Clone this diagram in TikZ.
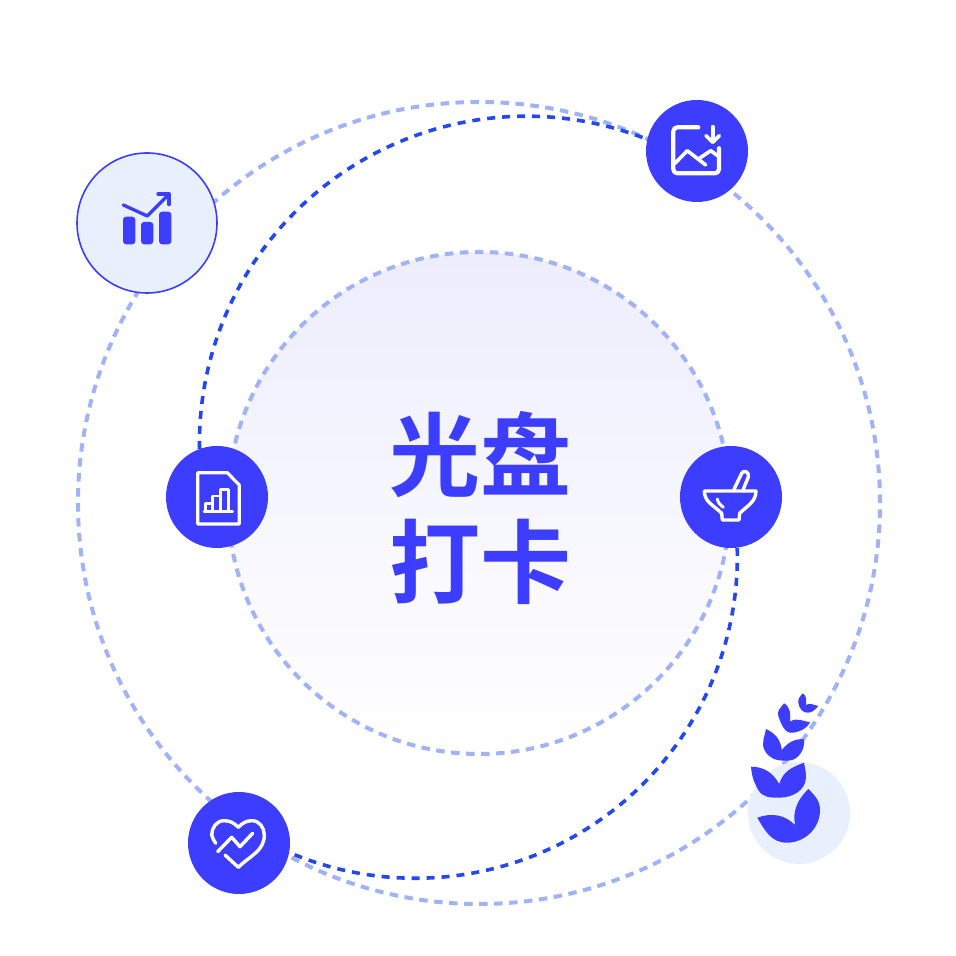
\documentclass[tikz,border=0pt]{standalone}
\usepackage{fontspec}
\newfontfamily\cjk{Noto Sans CJK SC}[BoldFont=* Bold]
\definecolor{iconblue}{HTML}{3D3DFF}
\definecolor{arcblue}{HTML}{2448F0}
\definecolor{ringblue}{HTML}{A0B2F8}
\definecolor{paleblue}{HTML}{E8F0FE}
\definecolor{palelilac}{HTML}{EDEDFD}
\tikzset{
  ringline/.style={draw=ringblue, line width=4pt, dash pattern=on 8.5pt off 6.5pt},
  arcline/.style={draw=arcblue, line width=3.6pt, dash pattern=on 8pt off 7pt},
  badge/.style={circle, fill=iconblue, inner sep=0pt, minimum size=102pt},
  paledisc/.style={circle, fill=paleblue, inner sep=0pt},
  iconline/.style={draw=white, line width=3.6pt, line cap=round, line join=round},
}

\begin{document}
\begin{tikzpicture}[x=1pt,y=1pt]
\useasboundingbox (0,0) rectangle (956,956);
\node[circle, ringline, inner sep=0pt, minimum size=802pt] (outerring) at (479,453) {};
\node[circle, ringline, top color=palelilac, bottom color=white, inner sep=0pt, minimum size=502pt] (innerring) at (479,453) {};
\node[align=center, font=\cjk\bfseries\fontsize{91}{108}\selectfont, text=iconblue] (title) at (480,448) {光盘\\[-1pt]打卡};
\node[paledisc, draw=iconblue, line width=1.6pt, minimum size=140pt] (chart) at (147,733) {};
\node[paledisc, minimum size=102pt] (plant) at (799,143) {};
\node[badge] (picture) at (697,805) {};
\node[badge] (report) at (217,459) {};
\node[badge] (bowl) at (731,459) {};
\node[badge] (heart) at (239,113) {};
% dark arcs
\draw[arcline] (report.110) arc[start angle=181, end angle=68.5, radius=327];
\draw[arcline] (bowl.-83) arc[start angle=1.5, end angle=-113, radius=322];
% chart icon
\begin{scope}[shift={(chart)}]
\fill[iconblue, rounded corners=3pt] (-24,-21.3) rectangle (-11.7,6.3);
\fill[iconblue, rounded corners=3pt] (-6,-21.3) rectangle (6.3,1);
\fill[iconblue, rounded corners=3pt] (12,-21.3) rectangle (24.3,11.3);
\draw[iconblue, line width=3.3pt, line cap=round, line join=round] (-23.7,18) -- (0.3,7) -- (21.3,28);
\draw[iconblue, line width=3.3pt, line cap=round, line join=round] (11,29) -- (22,29) -- (22,18.5);
\end{scope}
% picture icon
\begin{scope}[shift={(picture)}]
\draw[iconline, line width=4.2pt, rounded corners=4pt] (1.3,23.7) -- (-23.7,23.7) -- (-23.7,-22.3) -- (22,-22.3) -- (22,2.7);
\draw[iconline] (-22,-12.3) -- (-9.7,0.3) -- (8.7,-14);
\draw[iconline] (1.3,-8) -- (13.7,0.3) -- (22,-5.7);
\draw[iconline] (15.7,24.3) -- (15.7,9.3);
\draw[iconline] (9,15.3) -- (15.7,8.7) -- (22.3,15.3);
\end{scope}
% report icon
\begin{scope}[shift={(report)}]
\draw[iconline, line width=3.2pt] (-19.3,24.3) -- (10.3,24.3) -- (22.3,12) -- (22.3,-27) -- (-19.3,-27) -- cycle;
\draw[iconline, line width=2.8pt] (-13,-14.7) -- (15.7,-14.7);
\draw[iconline, line width=2.8pt] (-11.3,-14.7) rectangle (-4.7,-6.3);
\draw[iconline, line width=2.8pt] (-4.7,-14.7) rectangle (3.7,1);
\draw[iconline, line width=2.8pt] (3.7,-14.7) rectangle (11.3,7.7);
\end{scope}
% bowl icon
\begin{scope}[shift={(bowl)}]
\draw[iconline, line width=3.4pt] (3,7.7) -- (10.7,23.7) to[out=65,in=70,looseness=1.6] (17.3,20) -- (12.3,7.7);
\draw[iconline, line width=3.4pt] (-26.7,6) -- (25,6) to[out=-90,in=45] (8.7,-16.3) -- (8,-23) -- (-8.7,-23) -- (-9.3,-16.3) to[out=135,in=-90] (-26.7,6);
\draw[iconline, line width=3pt] (-13.7,-2) to[out=-80,in=140] (-7.7,-10.3);
\end{scope}
% heart icon
\begin{scope}[shift={(heart)}]
\draw[iconline, line width=3.4pt] (-23.3,-0.3) to[out=110,in=-90] (-27.3,8) to[out=90,in=180] (-15,22.3) to[out=0,in=135] (-0.7,15.7)
  to[out=45,in=180] (13,22.3) to[out=0,in=90] (25.3,8) to[out=-90,in=45] (-0.7,-24.3) -- (-14,-12);
\draw[iconline, line width=3.4pt] (-21.3,-8.7) -- (-7.3,5.7) -- (1,-3.7) -- (13.7,9.7);
\end{scope}
% plant leaves
\begin{scope}[shift={(plant)}]
\fill[iconblue] (-41.7,-4.7) to[out=20,in=135] (-4,-12) to[out=100,in=225] (9.3,24)
  to[out=-45,in=90] (21,3) to[out=-90,in=0] (-12.3,-29.7) to[out=180,in=-60] cycle;
\fill[iconblue] (-48,46.3) to[out=0,in=120] (-19.7,29) to[out=75,in=200] (5,50.3)
  to[out=-80,in=90] (7,36) to[out=-90,in=0] (-19.7,15.3) to[out=180,in=-60] (-40.7,23) to[out=120,in=-85] cycle;
\fill[iconblue] (-33,84) to[out=-25,in=95] (-17.3,63) to[out=50,in=175] (5,73.7)
  to[out=-85,in=45] (-1,56.5) to[out=225,in=0] (-14,52.3) to[out=180,in=-60] (-34,62) to[out=120,in=-100] cycle;
\fill[iconblue] (-15,109.7) to[out=-30,in=85] (-9,91.3) to[out=35,in=170] (11,90.7)
  to[out=-120,in=10] (-5.7,80.3) to[out=190,in=-70] (-20.7,97) to[out=110,in=-125] cycle;
\fill[iconblue] (3.7,119.7) to[out=-30,in=85] (7,108) to[out=35,in=170] (19.3,107)
  to[out=-130,in=5] (9,100.3) to[out=185,in=-80] (-0.7,110) to[out=100,in=-130] cycle;
\end{scope}
\end{tikzpicture}
\end{document}
